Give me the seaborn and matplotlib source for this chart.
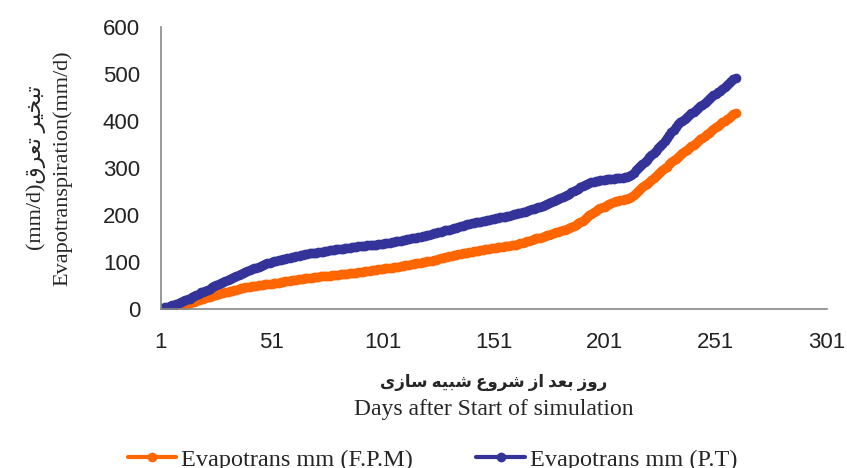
import numpy as np
import pandas as pd
import matplotlib
matplotlib.use('Agg')
import matplotlib.pyplot as plt
import seaborn as sns

# days of simulation
days = list(range(1, 261))

# evapotranspiration, P.T method (one value per day)
et_pt = [
    0, 1, 3, 4, 6, 8, 9, 11, 12, 14,
    16, 18, 20, 22, 25, 27, 30, 32, 35, 37,
    39, 41, 43, 46, 48, 51, 53, 55, 57, 59,
    62, 64, 66, 68, 70, 72, 74, 76, 78, 80,
    82, 84, 86, 88, 90, 92, 93, 95, 97, 98,
    100, 101, 102, 104, 105, 106, 107, 108, 109, 110,
    111, 112, 113, 114, 115, 116, 117, 118, 119, 119,
    120, 121, 122, 122, 123, 124, 125, 125, 126, 127,
    127, 128, 128, 129, 130, 130, 131, 132, 132, 133,
    133, 134, 134, 135, 135, 136, 137, 137, 138, 138,
    139, 140, 140, 141, 142, 143, 144, 144, 145, 146,
    147, 148, 149, 150, 151, 152, 153, 154, 155, 156,
    157, 158, 160, 161, 162, 163, 164, 165, 167, 168,
    169, 171, 172, 173, 175, 176, 177, 178, 180, 181,
    182, 183, 184, 185, 186, 187, 188, 189, 190, 191,
    192, 193, 194, 195, 196, 196, 197, 198, 199, 201,
    202, 204, 205, 206, 207, 209, 210, 212, 213, 215,
    217, 218, 220, 222, 224, 226, 228, 230, 232, 234,
    236, 238, 240, 243, 245, 248, 250, 253, 256, 259,
    262, 264, 266, 268, 270, 271, 272, 273, 274, 275,
    275, 276, 276, 277, 277, 278, 278, 279, 279, 280,
    281, 283, 286, 290, 295, 299, 304, 308, 313, 318,
    323, 327, 332, 337, 342, 347, 352, 358, 364, 370,
    376, 382, 388, 393, 398, 401, 405, 409, 413, 417,
    420, 424, 428, 432, 435, 439, 443, 447, 451, 455,
    458, 462, 465, 469, 472, 476, 480, 485, 489, 492,
]

# evapotranspiration, F.P.M method
et_fpm = [
    0, 0, 0, 1, 1, 2, 3, 4, 5, 6,
    7, 9, 10, 12, 14, 15, 17, 19, 20, 22,
    23, 25, 26, 28, 29, 30, 32, 33, 34, 36,
    37, 38, 39, 40, 41, 42, 44, 45, 46, 46,
    47, 48, 49, 49, 50, 51, 51, 52, 53, 53,
    54, 55, 56, 56, 57, 58, 59, 59, 60, 61,
    61, 62, 63, 63, 64, 65, 65, 66, 66, 67,
    68, 68, 69, 70, 70, 71, 71, 72, 72, 73,
    73, 74, 74, 75, 75, 76, 76, 77, 77, 78,
    79, 79, 80, 81, 81, 82, 82, 83, 84, 84,
    85, 86, 87, 87, 88, 89, 90, 90, 91, 92,
    93, 93, 94, 95, 96, 97, 97, 98, 99, 100,
    101, 102, 103, 104, 105, 106, 108, 109, 110, 111,
    112, 113, 114, 115, 116, 117, 118, 119, 120, 121,
    122, 123, 124, 124, 125, 126, 127, 127, 128, 129,
    129, 130, 131, 131, 132, 133, 134, 134, 135, 136,
    137, 139, 140, 141, 143, 144, 145, 147, 148, 150,
    151, 152, 154, 155, 157, 158, 160, 161, 163, 164,
    166, 167, 169, 170, 172, 174, 177, 179, 182, 185,
    188, 192, 196, 199, 203, 206, 209, 212, 214, 216,
    218, 221, 223, 225, 227, 229, 230, 231, 232, 233,
    234, 236, 239, 243, 247, 251, 255, 259, 263, 266,
    270, 274, 278, 283, 287, 291, 295, 299, 303, 308,
    312, 316, 320, 324, 328, 332, 336, 339, 343, 347,
    350, 354, 357, 361, 364, 368, 372, 375, 379, 383,
    387, 390, 394, 397, 400, 404, 407, 410, 414, 417,
]

x_ticks = [1, 51, 101, 151, 201, 251, 301]
y_ticks = [0, 100, 200, 300, 400, 500, 600]
series_labels = ['Evapotrans mm (F.P.M)', 'Evapotrans mm (P.T)']

# persian text, shaped by hand with presentation forms, reversed for LTR drawing
fa_xlabel = 'ﺭﻭﺯ ﺑﻌﺪ ﺍﺯ ﺷﺮﻭﻉ ﺷﺒﻴﻪ ﺳﺎﺯﻯ'[::-1]
fa_ylabel = 'ﺗﺒﺨﻴﺮ ﺗﻌﺮﻕ'[::-1]

sns.set_style('white')
plt.rcParams['font.family'] = ['Liberation Sans', 'DejaVu Sans']
serif = ['Liberation Serif', 'DejaVu Sans']

fig = plt.figure(figsize=(8.47, 4.68), dpi=100)
ax = fig.add_axes([0.19, 0.34, 0.786, 0.602])

sns.lineplot(x=days, y=et_fpm, ax=ax, color='#FF6600', marker='o', markersize=7,
             markeredgewidth=0, linewidth=5, label=series_labels[0])
sns.lineplot(x=days, y=et_pt, ax=ax, color='#333399', marker='o', markersize=7,
             markeredgewidth=0, linewidth=5, label=series_labels[1])

ax.set_xlim(1, 301)
ax.set_ylim(0, 600)
ax.set_xticks(x_ticks)
ax.set_yticks(y_ticks)
ax.tick_params(axis='both', labelsize=16, colors='#888888', labelcolor='#222222',
               length=6, width=1.2, direction='out')
ax.tick_params(axis='x', pad=11)
ax.tick_params(axis='y', pad=9)
for s in ['top', 'right']:
    ax.spines[s].set_visible(False)
for s in ['left', 'bottom']:
    ax.spines[s].set_color('#888888')
    ax.spines[s].set_linewidth(1.2)

# two-line x label: persian line then english line
ax.text(0.5, -0.26, fa_xlabel, transform=ax.transAxes, ha='center', va='center',
        family=serif, fontsize=12, fontweight='bold')
ax.set_xlabel('Days after Start of simulation', family=serif, fontsize=17, labelpad=33)
ax.set_ylabel('(mm/d)' + fa_ylabel + '\n' + 'Evapotranspiration(mm/d)', family=serif,
              fontsize=16, labelpad=22, linespacing=1.45)

ax.legend_.remove()
handles, labels = ax.get_legend_handles_labels()
leg = fig.legend(handles, labels, loc='upper left', bbox_to_anchor=(0.125, 0.088), ncol=2,
                 frameon=False, prop={'family': serif, 'size': 17.5}, handlelength=2.0,
                 columnspacing=2.6, handletextpad=0.2, markerscale=1.0)
for line in leg.get_lines():
    line.set_linewidth(3)

fig.savefig('out.png', dpi=100)
